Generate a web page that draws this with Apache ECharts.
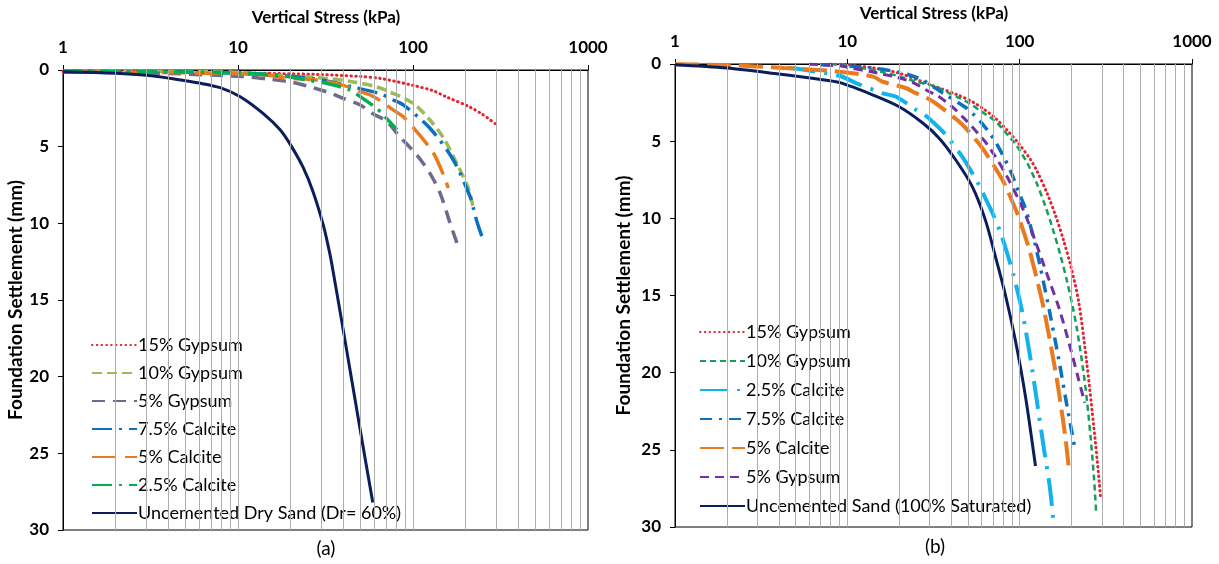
<!DOCTYPE html>
<html>
<head>
<meta charset="utf-8">
<script src="https://cdn.jsdelivr.net/npm/echarts@6/dist/echarts.min.js"></script>
<style>
  html, body { margin: 0; padding: 0; background: #fff; }
  #chart { width: 1219px; height: 564px; }
</style>
</head>
<body>
<div id="chart"></div>
<script>
// ---- Panel (a): dry sand, vertical stress (kPa) vs settlement (mm) ----
const aGyp15Stress = [1, 3, 10, 30, 50, 65, 100, 130, 155, 210, 250, 295];
const aGyp15Settle = [0.08, 0.1, 0.18, 0.3, 0.42, 0.55, 1.0, 1.35, 1.75, 2.4, 2.9, 3.5];

const aGyp10Stress = [1, 3, 10, 19, 29, 45, 62, 71, 100, 125, 150, 178, 207, 222];
const aGyp10Settle = [0.08, 0.1, 0.15, 0.4, 0.5, 0.76, 1.1, 1.35, 2.17, 3.26, 4.46, 6.1, 7.7, 9.1];

const aGyp5Stress = [1, 3, 10.7, 15, 20, 25, 30, 34, 40, 50, 59, 71, 84, 105, 125, 143, 163, 181];
const aGyp5Settle = [0.12, 0.18, 0.43, 0.6, 0.78, 1.05, 1.32, 1.52, 1.85, 2.28, 2.85, 3.37, 4.35, 5.54, 6.74, 8.04, 10.0, 11.5];

const aCal75Stress = [1, 3, 10, 20, 30, 45, 65, 75.5, 88, 125, 170, 212, 221, 233, 252];
const aCal75Settle = [0.1, 0.13, 0.2, 0.4, 0.65, 1.1, 1.55, 1.91, 2.28, 3.8, 5.87, 8.26, 9.0, 9.96, 11.1];

const aCal5Stress = [1, 3, 10, 14.6, 18.2, 29.4, 40, 50, 57, 65, 77, 88, 105, 131, 150, 159];
const aCal5Settle = [0.12, 0.15, 0.25, 0.33, 0.5, 0.68, 1.0, 1.41, 1.63, 2.0, 2.6, 3.05, 4.02, 5.43, 6.9, 7.7];

const aCal25Stress = [1, 3, 10, 19, 24.7, 32, 43.6, 50, 62, 67.6, 81];
const aCal25Settle = [0.1, 0.12, 0.2, 0.43, 0.65, 0.87, 1.3, 1.74, 2.5, 2.93, 3.9];

const aSandStress = [1, 2, 3, 4.4, 6, 7.9, 10.3, 13.9, 17.4, 20, 23.6, 26.9, 30.7, 32.8, 34.3, 40, 49.8, 58.9];
const aSandSettle = [0.12, 0.22, 0.35, 0.6, 0.85, 1.15, 1.74, 2.83, 3.9, 4.9, 6.37, 7.97, 10.1, 11.5, 12.6, 17.0, 23.4, 28.2];

// ---- Panel (b): saturated sand ----
const bGyp15Stress = [8, 10, 15, 20, 30.6, 43.6, 53, 60.6, 72.5, 86, 98, 115, 126, 145, 162, 180, 199, 220, 245, 270, 285, 294];
const bGyp15Settle = [0, 0.05, 0.3, 0.6, 1.36, 2.0, 2.44, 2.85, 3.52, 4.38, 5.11, 6.16, 6.93, 8.44, 9.86, 11.45, 13.2, 15.4, 19.35, 23.65, 26.25, 27.96];

const bGyp10Stress = [8, 9.4, 12, 15.7, 20, 25, 32.7, 39.1, 44.6, 53, 58, 66.4, 72.5, 79.1, 86, 94.4, 103, 110, 117, 125, 140, 154, 172, 189, 203, 215, 233, 246, 258, 270, 278];
const bGyp10Settle = [0, 0.05, 0.25, 0.5, 0.8, 1.15, 1.47, 1.9, 2.2, 2.66, 2.98, 3.4, 3.74, 4.17, 4.65, 5.18, 5.83, 6.35, 6.97, 7.67, 9.12, 10.52, 12.35, 14.15, 15.72, 17.17, 19.73, 21.86, 24.19, 26.83, 29.1];

const bCal25Stress = [4.5, 5.6, 9.06, 11.3, 16.1, 19.2, 25.1, 28.9, 32.7, 36.6, 46.6, 54.2, 58, 66, 69.2, 77.6, 86, 92, 100, 107, 118.6, 128, 138.6, 150, 158];
const bCal25Settle = [0.25, 0.37, 0.78, 1.25, 1.9, 2.12, 2.98, 3.4, 3.95, 4.49, 6.03, 7.25, 7.83, 9.13, 9.6, 10.96, 12.52, 13.67, 15.3, 16.9, 19.9, 22.4, 25.0, 27.5, 30.0];

const bCal75Stress = [7, 10, 15, 19.2, 22.9, 27.4, 36, 48.6, 54.2, 60.6, 67.7, 72.5, 81, 90, 98, 108, 115, 123, 131, 149.7, 170, 189, 209];
const bCal75Settle = [0.05, 0.12, 0.3, 0.5, 0.71, 1.04, 1.9, 2.82, 3.29, 3.86, 4.56, 5.06, 6.04, 7.12, 8.22, 9.35, 10.41, 11.69, 13.03, 16.14, 19.37, 22.27, 24.9];

const bCal5Stress = [1, 2, 4.3, 7.6, 9.9, 14.1, 16.1, 22, 24, 30.4, 35.6, 44.6, 48.8, 58.1, 63.2, 78.9, 86, 98, 112.7, 125, 138.6, 161.6, 170, 184.5, 194];
const bCal5Settle = [0.02, 0.07, 0.26, 0.42, 0.55, 0.82, 1.15, 1.57, 1.8, 2.33, 2.87, 3.74, 4.17, 5.17, 5.73, 7.45, 8.32, 9.84, 11.89, 13.8, 15.96, 19.95, 21.48, 24.25, 26.5];

const bGyp5Stress = [6, 9, 10.3, 13.8, 15.8, 19.2, 24, 29.9, 32.7, 37, 41, 48.6, 54.2, 59.4, 63.2, 67.7, 72.5, 85, 100, 110, 125, 146, 170, 199, 220, 239];
const bGyp5Settle = [0.02, 0.1, 0.25, 0.5, 0.65, 0.85, 1.2, 1.8, 2.0, 2.41, 2.81, 3.62, 4.19, 4.71, 5.05, 5.54, 6.01, 7.35, 8.93, 9.99, 11.67, 13.8, 15.89, 18.59, 20.47, 21.95];

const bSandStress = [1, 2, 4, 7, 9.06, 14.1, 20, 27.5, 34.2, 42.6, 53.1, 63.2, 72.4, 82.8, 94.4, 107.9, 123.5];
const bSandSettle = [0.05, 0.26, 0.65, 1.0, 1.21, 2.01, 2.77, 3.84, 4.82, 6.22, 7.95, 10.1, 12.5, 15.0, 17.9, 21.5, 26.05];

// Axis ranges and log grid lines (every integer multiple within each decade)
const stressMin = 1, stressMax = 1000;
const settleMin = 0, settleMax = 30, settleStep = 5;
const gridStress = [];
for (let d = 1; d < stressMax; d *= 10) {
  for (let m = 2; m <= 10; m++) gridStress.push(m * d);
}

const FONT = 'Lato, "Open Sans", sans-serif';
const GRID_COLOR = '#ADADAD';

function pairs(xs, ys) { return xs.map((x, i) => [x, ys[i]]); }

function makeLine(name, panel, xs, ys, color, dash, width, cap) {
  return {
    name: name,
    type: 'line',
    xAxisIndex: panel, yAxisIndex: panel,
    data: pairs(xs, ys),
    showSymbol: false,
    symbol: 'none',
    smooth: 0.3,
    z: 3,
    lineStyle: { color: color, type: dash, width: width, cap: cap || 'butt' },
    itemStyle: { color: color },
    emphasis: { disabled: true },
    animation: false
  };
}

function gridLineSeries(panel) {
  return {
    type: 'line', xAxisIndex: panel, yAxisIndex: panel, data: [],
    silent: true, z: 1, animation: false,
    markLine: {
      silent: true, symbol: ['none', 'none'], animation: false,
      label: { show: false },
      lineStyle: { type: 'solid', color: GRID_COLOR, width: 1 },
      emphasis: { disabled: true },
      data: gridStress.filter(v => v < stressMax).map(v => ({ xAxis: v }))
    }
  };
}

function xAxisFor(panel) {
  return {
    gridIndex: panel, type: 'log', logBase: 10, min: stressMin, max: stressMax,
    position: 'top',
    axisLine: { show: true, onZero: false, lineStyle: { color: '#000', width: 1 } },
    axisTick: { show: true, inside: false, length: 5, lineStyle: { color: '#000' } },
    axisLabel: {
      fontFamily: FONT, fontWeight: 'bold', fontSize: 17, color: '#000', margin: 14,
      formatter: v => String(Math.round(v))
    },
    splitLine: { show: false },
    minorTick: { show: false }
  };
}

function yAxisFor(panel, gap) {
  return {
    gridIndex: panel, type: 'value', inverse: true,
    min: settleMin, max: settleMax, interval: settleStep,
    name: 'Foundation Settlement (mm)', nameLocation: 'middle', nameGap: gap, nameRotate: 90,
    nameTextStyle: { fontFamily: FONT, fontWeight: 'bold', fontSize: 19, color: '#000' },
    axisLine: { show: true, onZero: false, lineStyle: { color: '#000', width: 1 } },
    axisTick: { show: true, inside: false, length: 5, lineStyle: { color: '#000' } },
    axisLabel: { fontFamily: FONT, fontWeight: 'bold', fontSize: 17, color: '#000', margin: 14 },
    splitLine: { show: false }
  };
}

// Series names carry a panel prefix so both legends keep their own styles
const SEP = '::';
const A = s => 'a' + SEP + s;
const B = s => 'b' + SEP + s;

const seriesA = [
  makeLine(A('15% Gypsum'), 0, aGyp15Stress, aGyp15Settle, '#E3232F', [0.5, 4.3], 3, 'round'),
  makeLine(A('10% Gypsum'), 0, aGyp10Stress, aGyp10Settle, '#9BBB59', [10, 5], 3.5),
  makeLine(A('5% Gypsum'), 0, aGyp5Stress, aGyp5Settle, '#6B6B8E', [13, 8], 3.5),
  makeLine(A('7.5% Calcite'), 0, aCal75Stress, aCal75Settle, '#0A70C0', [20, 7, 3, 7], 3.5),
  makeLine(A('5% Calcite'), 0, aCal5Stress, aCal5Settle, '#E97A1E', [24, 9], 3.5),
  makeLine(A('2.5% Calcite'), 0, aCal25Stress, aCal25Settle, '#00B050', [20, 7, 3, 7], 3.5),
  makeLine(A('Uncemented Dry Sand (Dr= 60%)'), 0, aSandStress, aSandSettle, '#0B1D5A', 'solid', 3)
];

const seriesB = [
  makeLine(B('15% Gypsum'), 1, bGyp15Stress, bGyp15Settle, '#E3232F', [0.5, 4.3], 3, 'round'),
  makeLine(B('10% Gypsum'), 1, bGyp10Stress, bGyp10Settle, '#14A05A', [6, 4], 2.5),
  makeLine(B('2.5% Calcite'), 1, bCal25Stress, bCal25Settle, '#12B2EC', [28, 9, 3, 9], 4),
  makeLine(B('7.5% Calcite'), 1, bCal75Stress, bCal75Settle, '#0A70C0', [12, 7, 3, 7], 3.5),
  makeLine(B('5% Calcite'), 1, bCal5Stress, bCal5Settle, '#E97A1E', [24, 8], 4),
  makeLine(B('5% Gypsum'), 1, bGyp5Stress, bGyp5Settle, '#7030A0', [9, 6], 3),
  makeLine(B('Uncemented Sand (100% Saturated)'), 1, bSandStress, bSandSettle, '#0B1D5A', 'solid', 3)
];

function legendFor(series, left, top, gap) {
  return {
    orient: 'vertical', left: left, top: top,
    itemWidth: 45, itemHeight: 14, itemGap: gap,
    selectedMode: false,
    data: series.map(s => s.name),
    formatter: name => name.split(SEP)[1],
    itemStyle: { opacity: 0 },
    textStyle: { fontFamily: FONT, fontSize: 18, color: '#000', padding: [0, 0, 0, -4] }
  };
}

function label(text, x, y, size, weight) {
  return {
    type: 'text', x: x, y: y, silent: true,
    style: {
      text: text, fill: '#000', align: 'center', verticalAlign: 'middle',
      font: (weight || 'normal') + ' ' + size + 'px ' + FONT
    }
  };
}

const chart = echarts.init(document.getElementById('chart'), null, { renderer: 'canvas' });
chart.setOption({
  backgroundColor: '#fff',
  animation: false,
  textStyle: { fontFamily: FONT },
  grid: [
    { left: 63, top: 70, width: 525, height: 460, show: true, borderColor: '#000', borderWidth: 1, containLabel: false },
    { left: 675, top: 64, width: 517, height: 463, show: true, borderColor: '#000', borderWidth: 1, containLabel: false }
  ],
  graphic: [
    label('Vertical Stress (kPa)', 326, 18, 17, 'bold'),
    label('Vertical Stress (kPa)', 934, 14, 17, 'bold'),
    label('(a)', 326, 549, 19),
    label('(b)', 935, 547, 19)
  ],
  legend: [
    legendFor(seriesA, 86, 331, 10),
    legendFor(seriesB, 694, 318, 11)
  ],
  xAxis: [xAxisFor(0), xAxisFor(1)],
  yAxis: [yAxisFor(0, 36), yAxisFor(1, 42)],
  series: [gridLineSeries(0), gridLineSeries(1)].concat(seriesA, seriesB)
});
</script>
</body>
</html>
